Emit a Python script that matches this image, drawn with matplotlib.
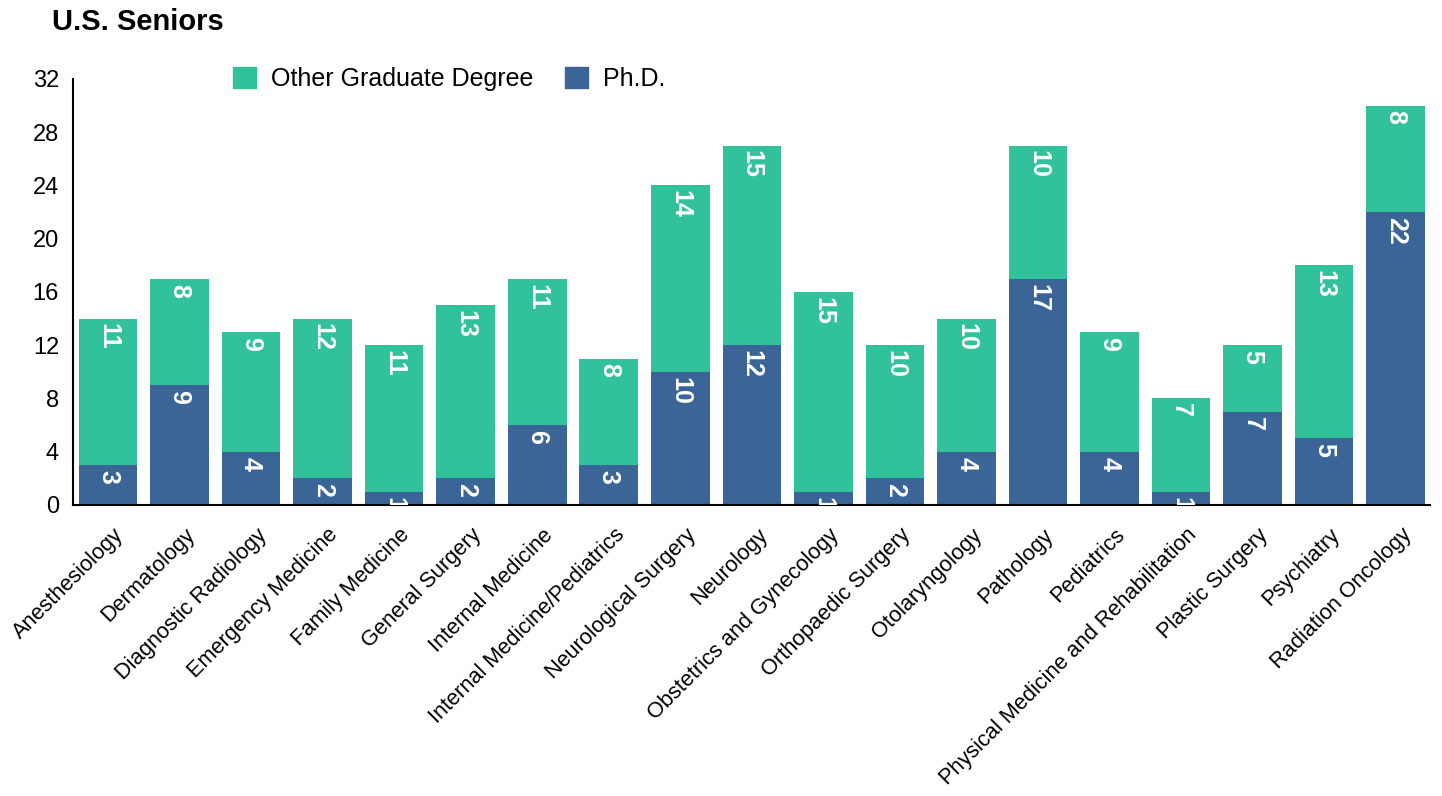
import numpy as np
import matplotlib
matplotlib.use("Agg")
import matplotlib.pyplot as plt
import matplotlib.transforms as mtransforms
from matplotlib.patches import Patch

plt.rcParams['font.family'] = ['Liberation Sans', 'DejaVu Sans']

# data
specialties = [
    "Anesthesiology", "Dermatology", "Diagnostic Radiology", "Emergency Medicine",
    "Family Medicine", "General Surgery", "Internal Medicine",
    "Internal Medicine/Pediatrics", "Neurological Surgery", "Neurology",
    "Obstetrics and Gynecology", "Orthopaedic Surgery", "Otolaryngology",
    "Pathology", "Pediatrics", "Physical Medicine and Rehabilitation",
    "Plastic Surgery", "Psychiatry", "Radiation Oncology",
]
phd = [3, 9, 4, 2, 1, 2, 6, 3, 10, 12, 1, 2, 4, 17, 4, 1, 7, 5, 22]
other_grad = [11, 8, 9, 12, 11, 13, 11, 8, 14, 15, 15, 10, 10, 10, 9, 7, 5, 13, 8]
y_ticks = [0, 4, 8, 12, 16, 20, 24, 28, 32]

TEAL = '#31c29c'
BLUE = '#3a6596'

fig = plt.figure(figsize=(14.42, 7.96), dpi=100)
ax = fig.add_axes([0.0506, 0.3656, 0.9411, 0.5352])

x = np.arange(len(specialties))
bars_phd = ax.bar(x, phd, width=0.82, color=BLUE)
bars_other = ax.bar(x, other_grad, width=0.82, bottom=phd, color=TEAL)

# value labels, rotated, at the top of each segment
for bars, vals in [(bars_phd, phd), (bars_other, other_grad)]:
    for b, v in zip(bars, vals):
        top = b.get_y() + b.get_height()
        ax.annotate(str(v), (b.get_x() + b.get_width() / 2, top),
                    xytext=(0, -3.5), textcoords='offset points',
                    ha='center', va='top', rotation=-90,
                    color='white', fontsize=18, fontweight='bold',
                    annotation_clip=False, clip_on=True)

ax.set_xlim(-0.49, len(specialties) - 0.52)
ax.set_ylim(0, 32)
ax.set_yticks(y_ticks)
ax.tick_params(axis='y', length=0, labelsize=17, pad=10)
ax.tick_params(axis='x', length=0, pad=14)
ax.set_xticks(x)
ax.set_xticklabels(specialties, rotation=45, ha='right', va='top',
                   rotation_mode='anchor', fontsize=15.7)
shift = mtransforms.ScaledTranslation(5 / 100, 0, fig.dpi_scale_trans)
for lbl in ax.get_xticklabels():
    lbl.set_transform(lbl.get_transform() + shift)

for side in ['top', 'right']:
    ax.spines[side].set_visible(False)
ax.spines['left'].set_linewidth(1.5)
ax.spines['bottom'].set_linewidth(1.5)

handles = [Patch(color=TEAL, label='Other Graduate Degree'),
           Patch(color=BLUE, label='Ph.D.')]
fig.legend(handles=handles, loc='center left', bbox_to_anchor=(0.1463, 0.9005),
           ncol=2, frameon=False, fontsize=18, handlelength=0.92,
           handleheight=0.92, handletextpad=0.6, columnspacing=1.26)

fig.text(0.036, 0.99, "U.S. Seniors", fontsize=21, fontweight='bold',
         ha='left', va='top')

fig.savefig("out.png", dpi=100)
